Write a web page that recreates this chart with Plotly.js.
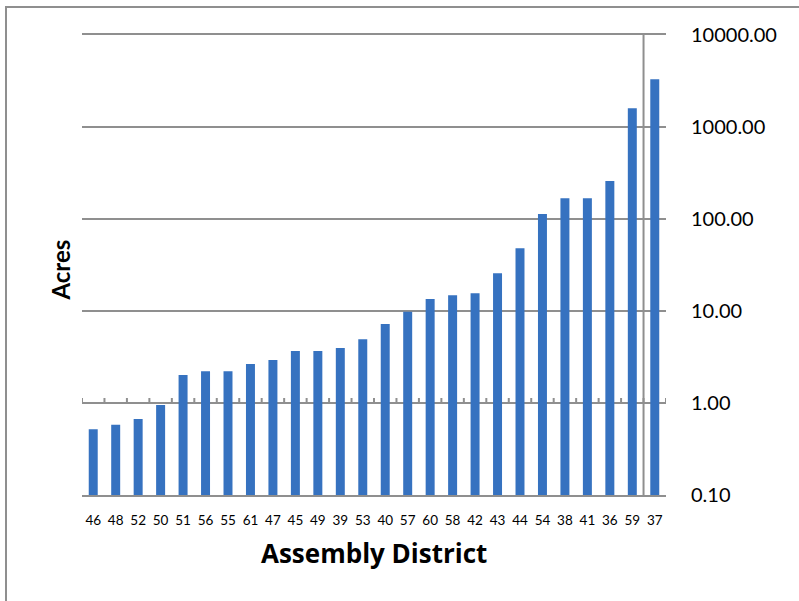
<!DOCTYPE html>
<html>
<head>
<meta charset="utf-8">
<script src="https://cdn.plot.ly/plotly-3.0.1.min.js"></script>
<style>
  html, body { margin: 0; padding: 0; background: #fff; }
  #frame { position: absolute; left: 5px; top: 6px; width: 794px; height: 595px;
           border-left: 2px solid #8f8f8f; border-top: 2px solid #8f8f8f; box-sizing: border-box; }
  #chart { position: absolute; left: 0; top: 0; width: 799px; height: 601px; }
</style>
</head>
<body>
<div id="frame"></div>
<div id="chart"></div>
<script>
const districts = ["46","48","52","50","51","56","55","61","47","45","49","39","53","40","57","60","58","42","43","44","54","38","41","36","59","37"];
const acres = [0.52, 0.58, 0.67, 0.95, 2.02, 2.21, 2.21, 2.65, 2.93, 3.67, 3.67, 3.96, 4.92, 7.22, 9.84, 13.5, 14.8, 15.6, 25.7, 48.0, 113, 168, 168, 259, 1596, 3297];
const yTickVals = [0.1, 1, 10, 100, 1000, 10000];

const font = "Lato, 'Open Sans', sans-serif";
const axisGray = "#8f8f8f";

const traces = [
  {
    type: "bar",
    x: districts,
    y: acres,
    marker: { color: "#3672c0", line: { width: 0 } },
    hoverinfo: "x+y"
  }
];

// category-boundary tick marks on the horizontal axis line, which crosses at 1.00
// (paper y = 0.2 on the log range -1..4)
const shapes = [];
for (let i = 0; i <= districts.length; i++) {
  shapes.push({
    type: "line", xref: "x", yref: "paper",
    x0: i - 0.5, x1: i - 0.5,
    ysizemode: "pixel", yanchor: 0.2, y0: 0, y1: 5,
    line: { color: axisGray, width: 2 }
  });
}
// vertical axis line, crossing between the last two categories
shapes.push({
  type: "line", xref: "paper", yref: "paper",
  x0: 25 / 26, x1: 25 / 26, y0: 0, y1: 1,
  line: { color: axisGray, width: 2 }
});

const layout = {
  width: 799,
  height: 601,
  margin: { l: 82, r: 133, t: 35, b: 106 },
  paper_bgcolor: "rgba(0,0,0,0)",
  plot_bgcolor: "rgba(0,0,0,0)",
  showlegend: false,
  bargap: 0.6,
  font: { family: font, color: "#000" },
  xaxis: {
    type: "category",
    categoryorder: "array",
    categoryarray: districts,
    range: [-0.5, districts.length - 0.5],
    dtick: 1,
    showline: true,
    mirror: true,
    linecolor: axisGray,
    linewidth: 2,
    showgrid: false,
    zeroline: false,
    ticks: "",
    tickfont: { family: font, size: 13.5, color: "#000" },
    ticklabelstandoff: 12
  },
  yaxis: {
    type: "log",
    side: "right",
    range: [-1, 4],
    tickvals: yTickVals,
    tickformat: ".2f",
    ticks: "",
    showline: false,
    showgrid: true,
    gridcolor: axisGray,
    gridwidth: 2,
    zeroline: false,
    tickfont: { family: font, size: 20, color: "#000" },
    ticklabelstandoff: 24
  },
  shapes: shapes,
  annotations: [
    {
      text: "<b>Assembly District</b>",
      xref: "paper", yref: "paper", x: 0.5, y: -0.126,
      xanchor: "center", yanchor: "middle", showarrow: false,
      font: { family: "'Open Sans', Lato, sans-serif", size: 26, color: "#000" }
    },
    {
      text: "<b>Acres</b>",
      xref: "paper", yref: "paper", x: -0.036, y: 0.49,
      xanchor: "center", yanchor: "middle", showarrow: false, textangle: -90,
      font: { family: font, size: 24, color: "#000" }
    }
  ]
};

Plotly.newPlot("chart", traces, layout, { staticPlot: true, displayModeBar: false });
</script>
</body>
</html>
